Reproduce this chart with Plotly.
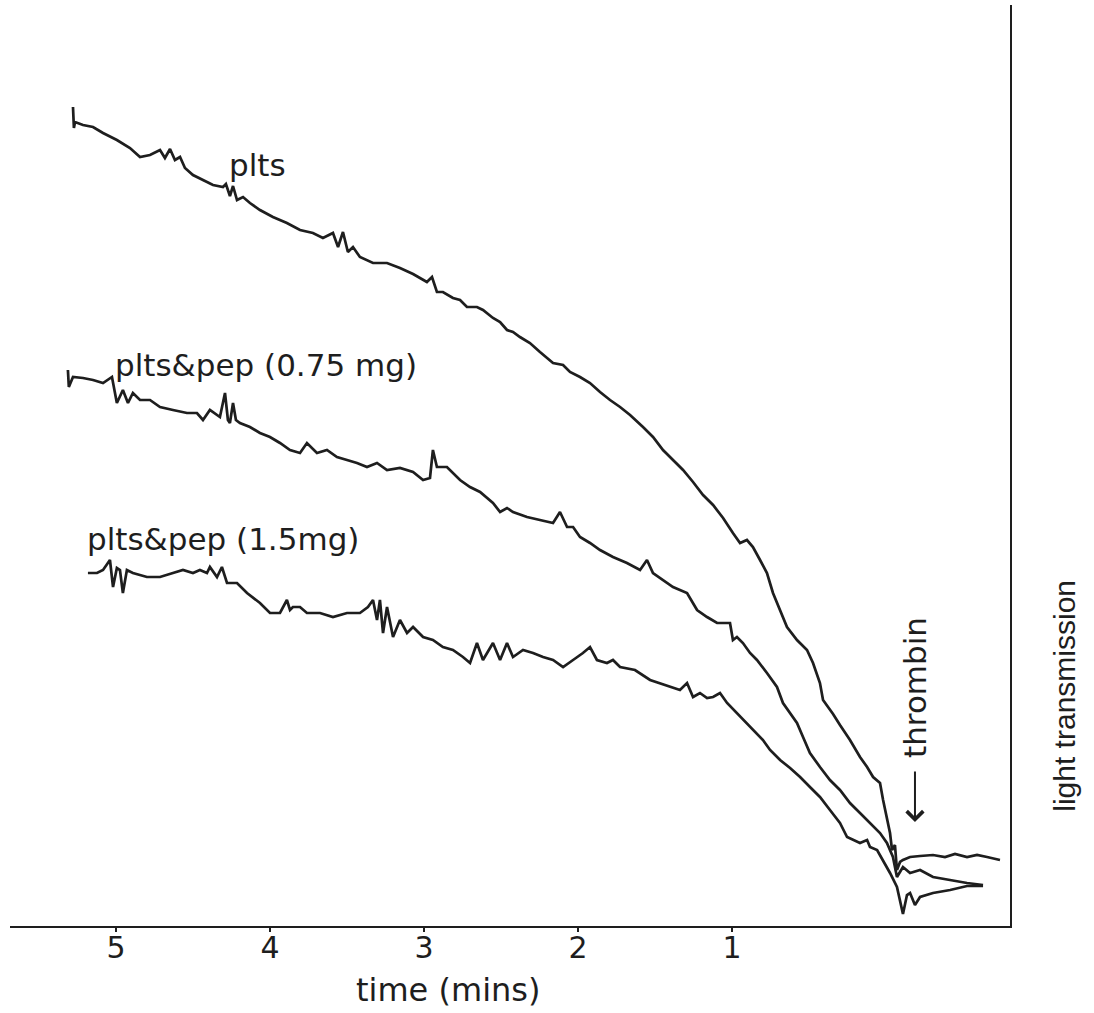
import plotly.graph_objects as go

# time before thrombin addition (mins) and light transmission (arbitrary units)
plts_time = [5.279, 5.273, 5.266, 5.214, 5.149, 5.084, 4.994, 4.909, 4.844, 4.779, 4.714, 4.682, 4.649, 4.617,
             4.584, 4.552, 4.5, 4.435, 4.370, 4.305, 4.286, 4.260, 4.240, 4.214, 4.175, 4.130, 4.065, 3.981,
             3.890, 3.805, 3.721, 3.656, 3.591, 3.558, 3.526, 3.494, 3.461, 3.416, 3.331, 3.240, 3.156, 3.071,
             2.981, 2.948, 2.916, 2.877, 2.812, 2.766, 2.721, 2.656, 2.617, 2.552, 2.506, 2.461, 2.422, 2.377,
             2.312, 2.247, 2.162, 2.097, 2.052, 1.987, 1.922, 1.857, 1.792, 1.727, 1.662, 1.578, 1.513, 1.448,
             1.383, 1.318, 1.253, 1.188, 1.123, 1.058, 0.994, 0.948, 0.903, 0.864, 0.818, 0.773, 0.734, 0.688,
             0.643, 0.578, 0.513, 0.474, 0.429, 0.409, 0.344, 0.299, 0.234, 0.169, 0.123, 0.084, 0.039, 0.019,
             -0.006, -0.026, -0.039, -0.058, -0.071, -0.091, -0.110, -0.156, -0.221, -0.305, -0.383, -0.448,
             -0.526, -0.591, -0.656, -0.740]
plts_trans = [79.9, 77.8, 78.4, 78.1, 77.9, 77.3, 76.6, 75.8, 74.9, 75.1, 75.6, 74.8, 75.7, 74.6,
              74.9, 73.8, 73.1, 72.6, 72.1, 71.9, 72.2, 71.0, 72.0, 70.6, 70.9, 70.3, 69.6, 68.9,
              68.3, 67.6, 67.3, 66.8, 67.3, 65.9, 67.4, 65.4, 65.9, 64.9, 64.3, 64.3, 63.8, 63.2,
              62.4, 62.9, 61.4, 61.4, 60.8, 60.6, 59.9, 59.9, 59.6, 58.8, 58.4, 57.6, 57.4, 56.9,
              56.3, 55.4, 54.3, 54.1, 53.4, 52.9, 52.3, 51.4, 50.6, 49.9, 49.1, 47.9, 46.9, 45.6,
              44.6, 43.6, 42.4, 41.1, 40.1, 38.8, 37.3, 36.3, 36.6, 35.9, 34.6, 33.3, 31.3, 29.6,
              27.9, 26.6, 25.6, 24.3, 22.3, 20.6, 19.2, 18.1, 16.6, 14.9, 13.9, 12.9, 12.3, 10.6,
              8.9, 7.3, 5.6, 6.1, 3.6, 4.4, 4.6, 4.9, 5.0, 5.1, 4.9, 5.2,
              4.9, 5.1, 4.9, 4.6]

pep075_time = [5.312, 5.306, 5.279, 5.214, 5.149, 5.084, 5.026, 4.994, 4.955, 4.922, 4.890, 4.844, 4.779, 4.714,
               4.630, 4.539, 4.474, 4.435, 4.390, 4.325, 4.292, 4.273, 4.260, 4.240, 4.221, 4.195, 4.130, 4.065,
               4.0, 3.935, 3.870, 3.805, 3.760, 3.695, 3.630, 3.565, 3.5, 3.435, 3.370, 3.305, 3.240, 3.156,
               3.071, 3.006, 2.961, 2.942, 2.916, 2.851, 2.766, 2.701, 2.636, 2.552, 2.506, 2.461, 2.422, 2.331,
               2.247, 2.162, 2.117, 2.071, 2.032, 1.987, 1.922, 1.857, 1.773, 1.682, 1.597, 1.552, 1.513, 1.448,
               1.383, 1.292, 1.227, 1.162, 1.097, 1.013, 0.994, 0.968, 0.929, 0.883, 0.838, 0.773, 0.708, 0.669,
               0.623, 0.578, 0.539, 0.494, 0.429, 0.364, 0.299, 0.234, 0.169, 0.104, 0.039, -0.006, -0.045,
               -0.071, -0.110, -0.156, -0.221, -0.305, -0.416, -0.526, -0.630]
pep075_trans = [53.6, 51.9, 52.9, 52.8, 52.6, 52.3, 52.9, 50.3, 51.6, 50.3, 51.3, 50.6, 50.6, 49.9,
                49.6, 49.3, 49.3, 48.6, 49.6, 48.9, 51.3, 48.6, 48.3, 50.3, 48.6, 48.3, 47.9, 47.3,
                46.9, 46.3, 45.6, 45.3, 46.3, 45.3, 45.6, 44.9, 44.6, 44.3, 43.9, 44.3, 43.6, 43.8,
                43.4, 42.6, 42.8, 45.6, 43.9, 43.9, 42.6, 41.9, 41.4, 40.3, 39.4, 39.8, 39.4, 38.9,
                38.6, 38.3, 39.4, 37.9, 37.9, 36.9, 36.3, 35.6, 34.9, 34.3, 33.6, 34.6, 33.3, 32.6,
                31.9, 31.3, 29.6, 28.9, 28.3, 28.3, 26.6, 26.9, 26.3, 25.3, 24.6, 23.3, 21.9, 20.3,
                19.3, 18.3, 16.9, 15.3, 13.9, 12.6, 11.6, 10.3, 9.3, 8.3, 7.3, 6.3, 4.9,
                2.9, 3.9, 3.3, 3.6, 2.9, 2.6, 2.3, 2.1]

pep15_time = [5.182, 5.123, 5.084, 5.039, 5.019, 4.994, 4.974, 4.955, 4.929, 4.890, 4.799, 4.714, 4.630, 4.565,
              4.5, 4.455, 4.409, 4.390, 4.344, 4.312, 4.279, 4.214, 4.149, 4.065, 4.0, 3.935, 3.890, 3.870,
              3.851, 3.805, 3.760, 3.675, 3.591, 3.5, 3.416, 3.364, 3.331, 3.305, 3.286, 3.266, 3.240, 3.201,
              3.156, 3.110, 3.071, 3.006, 2.942, 2.877, 2.812, 2.747, 2.701, 2.656, 2.617, 2.552, 2.506, 2.461,
              2.422, 2.357, 2.292, 2.227, 2.162, 2.097, 2.032, 1.968, 1.922, 1.877, 1.812, 1.773, 1.727, 1.630,
              1.532, 1.435, 1.338, 1.292, 1.253, 1.208, 1.162, 1.123, 1.078, 1.032, 0.968, 0.903, 0.838, 0.799,
              0.753, 0.688, 0.623, 0.558, 0.494, 0.429, 0.364, 0.299, 0.253, 0.214, 0.169, 0.123, 0.104, 0.058,
              0.019, -0.026, -0.071, -0.091, -0.110, -0.136, -0.156, -0.188, -0.221, -0.305, -0.416, -0.526,
              -0.630]
pep15_trans = [33.3, 33.3, 33.6, 34.6, 31.9, 33.8, 33.6, 31.3, 33.6, 33.3, 32.9, 32.9, 33.3, 33.6,
               33.3, 33.6, 33.3, 33.9, 32.9, 33.9, 32.3, 32.3, 31.3, 30.3, 29.3, 29.3, 30.6, 29.6,
               29.9, 29.9, 29.3, 29.3, 28.9, 29.3, 29.3, 29.9, 30.6, 28.6, 30.6, 27.3, 29.9, 26.9,
               28.6, 27.3, 27.9, 26.9, 26.6, 25.9, 25.6, 24.9, 24.3, 26.3, 24.6, 26.3, 24.6, 26.3,
               24.9, 25.6, 25.3, 24.9, 24.6, 23.9, 24.6, 25.3, 25.9, 24.6, 24.3, 24.6, 23.9, 23.6,
               22.6, 22.1, 21.6, 22.3, 20.9, 21.3, 20.8, 20.9, 21.3, 20.3, 19.3, 18.3, 17.3, 16.6,
               15.6, 14.6, 13.8, 12.9, 11.9, 10.9, 9.6, 8.3, 6.9, 6.6, 6.3, 6.6, 5.9, 5.6,
               4.6, 3.3, 1.9, 0.6, -0.8, 1.1, 1.3, 0.1, 0.9, 1.3, 1.6, 2.0,
               2.0]

tick_vals = [5, 4, 3, 2, 1]
tick_text = ["5", "4", "3", "2", "1"]

FONT = "DejaVu Sans"
INK = "#1e1e1e"

fig = go.Figure()
for tx, ty in [(plts_time, plts_trans), (pep075_time, pep075_trans), (pep15_time, pep15_trans)]:
    fig.add_trace(go.Scatter(x=tx, y=ty, mode="lines",
                             line=dict(color=INK, width=2.7), showlegend=False, hoverinfo="skip"))

fig.update_layout(
    width=1094, height=1013,
    margin=dict(l=10, r=84, t=5, b=87),
    paper_bgcolor="white", plot_bgcolor="white",
    font=dict(family=FONT, color=INK),
    xaxis=dict(range=[5.688, -0.805], tickvals=tick_vals, ticktext=tick_text,
               showline=True, linecolor=INK, linewidth=2, ticks="outside", ticklen=4,
               tickwidth=2, tickcolor=INK, showgrid=False, zeroline=False,
               ticklabelstandoff=-10,
               tickfont=dict(size=30, family=FONT, color=INK)),
    yaxis=dict(range=[-2.0, 90.1], side="right", showline=True, linecolor=INK, linewidth=2,
               showticklabels=False, ticks="", showgrid=False, zeroline=False),
)

ann_font = dict(size=31, family=FONT, color=INK)
fig.add_annotation(x=4.078, y=74.1, text="plts", showarrow=False, font=ann_font)
fig.add_annotation(x=4.026, y=54.1, text="plts&pep (0.75 mg)", showarrow=False, font=ann_font)
fig.add_annotation(x=4.305, y=36.7, text="plts&pep (1.5mg)", showarrow=False, font=ann_font)
fig.add_annotation(x=-0.188, y=21.9, text="thrombin", textangle=-90, showarrow=False, font=ann_font)
fig.add_annotation(x=-0.188, y=8.4, ax=0, ay=-52, text="", showarrow=True,
                   arrowhead=4, arrowsize=1.6, arrowwidth=2, arrowcolor=INK)
fig.add_annotation(xref="paper", yref="paper", x=1.055, y=0.25, xanchor="center", yanchor="middle",
                   text="light transmission", textangle=-90, showarrow=False,
                   font=dict(size=30, family="Liberation Sans", color=INK))
fig.add_annotation(xref="paper", yref="paper", x=0.438, y=-0.07, xanchor="center", yanchor="middle",
                   text="time (mins)", showarrow=False, font=dict(size=32, family=FONT, color=INK))

fig.write_html("out.html")
